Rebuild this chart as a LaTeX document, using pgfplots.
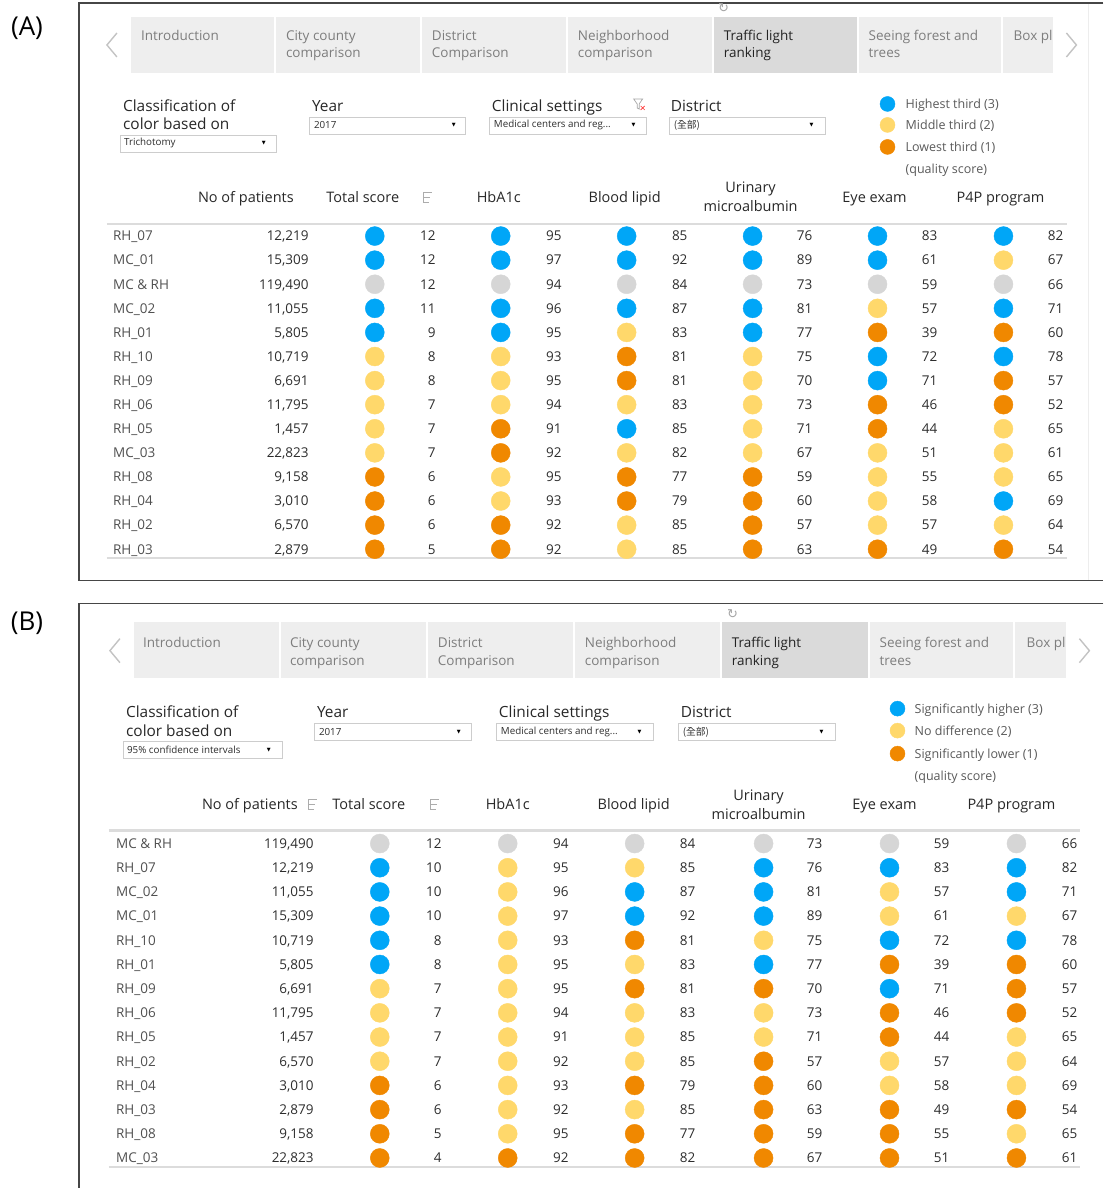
\documentclass[border=0pt]{standalone}
\usepackage{pgfplots}
\pgfplotsset{compat=1.18}
\usepackage{pgfplotstable}
\usepackage{fontspec}
\setmainfont{Open Sans}
\newfontfamily\cjk{Noto Sans CJK TC}
\newfontfamily\dvs{DejaVu Sans}
\newcommand\fs[1]{\fontsize{#1}{#1}\selectfont}
\protected\def\US{\_}
\protected\def\AMP{\&}

\definecolor{cblue}{RGB}{0,166,247}
\definecolor{cyellow}{RGB}{255,216,107}
\definecolor{corange}{RGB}{240,136,0}
\definecolor{cgray}{RGB}{214,214,214}
\definecolor{tabbg}{RGB}{238,238,238}
\definecolor{tabsel}{RGB}{218,218,218}
\definecolor{tabtxt}{RGB}{125,125,125}
\definecolor{seltxt}{RGB}{35,35,35}
\definecolor{lbltxt}{RGB}{80,80,80}
\definecolor{numtxt}{RGB}{45,45,45}
\definecolor{hdrtxt}{RGB}{40,40,40}
\definecolor{legtxt}{RGB}{90,90,90}
\definecolor{rulec}{RGB}{220,220,220}
\definecolor{arrowc}{RGB}{195,195,195}
\definecolor{framec}{RGB}{70,70,70}
\definecolor{boxc}{RGB}{205,205,205}

\pgfplotstableread[col sep=semicolon]{
r;name;pat;tc;t;hc;h;bc;b;uc;u;ec;e;pc;p
1;RH\US 07;12,219;B;12;B;95;B;85;B;76;B;83;B;82
2;MC\US 01;15,309;B;12;B;97;B;92;B;89;B;61;Y;67
3;MC \AMP{} RH;119,490;G;12;G;94;G;84;G;73;G;59;G;66
4;MC\US 02;11,055;B;11;B;96;B;87;B;81;Y;57;B;71
5;RH\US 01;5,805;B;9;B;95;Y;83;B;77;O;39;O;60
6;RH\US 10;10,719;Y;8;Y;93;O;81;Y;75;B;72;B;78
7;RH\US 09;6,691;Y;8;Y;95;O;81;Y;70;B;71;O;57
8;RH\US 06;11,795;Y;7;Y;94;Y;83;Y;73;O;46;O;52
9;RH\US 05;1,457;Y;7;O;91;B;85;Y;71;O;44;Y;65
10;MC\US 03;22,823;Y;7;O;92;Y;82;Y;67;Y;51;Y;61
11;RH\US 08;9,158;O;6;Y;95;O;77;O;59;Y;55;Y;65
12;RH\US 04;3,010;O;6;Y;93;O;79;O;60;Y;58;B;69
13;RH\US 02;6,570;O;6;O;92;Y;85;O;57;Y;57;Y;64
14;RH\US 03;2,879;O;5;O;92;Y;85;O;63;O;49;O;54
}\tabA

\pgfplotstableread[col sep=semicolon]{
r;name;pat;tc;t;hc;h;bc;b;uc;u;ec;e;pc;p
1;MC \AMP{} RH;119,490;G;12;G;94;G;84;G;73;G;59;G;66
2;RH\US 07;12,219;B;10;Y;95;Y;85;B;76;B;83;B;82
3;MC\US 02;11,055;B;10;Y;96;B;87;B;81;Y;57;B;71
4;MC\US 01;15,309;B;10;Y;97;B;92;B;89;Y;61;Y;67
5;RH\US 10;10,719;B;8;Y;93;O;81;Y;75;B;72;B;78
6;RH\US 01;5,805;B;8;Y;95;Y;83;B;77;O;39;O;60
7;RH\US 09;6,691;Y;7;Y;95;O;81;O;70;B;71;O;57
8;RH\US 06;11,795;Y;7;Y;94;Y;83;Y;73;O;46;O;52
9;RH\US 05;1,457;Y;7;Y;91;Y;85;Y;71;O;44;Y;65
10;RH\US 02;6,570;Y;7;Y;92;Y;85;O;57;Y;57;Y;64
11;RH\US 04;3,010;O;6;Y;93;O;79;O;60;Y;58;Y;69
12;RH\US 03;2,879;O;6;Y;92;Y;85;O;63;O;49;O;54
13;RH\US 08;9,158;O;5;Y;95;O;77;O;59;O;55;Y;65
14;MC\US 03;22,823;O;4;O;92;O;82;O;67;O;51;O;61
}\tabB

\pgfplotsset{
  tl/.style={scatter, only marks, mark=*, mark size=9.5pt,
    point meta=explicit symbolic,
    scatter/classes={G={cgray}, O={corange}, Y={cyellow}, B={cblue}}},
  txt/.style={draw=none, mark=none, point meta=explicit symbolic,
    nodes near coords={\pgfplotspointmeta},
    every node near coord/.append style={font=\fs{13.5}, inner sep=0pt,
      text height=9.6pt, text depth=0pt}},
  num/.style={txt, nodes near coords align={anchor=east},
    every node near coord/.append style={text=numtxt}},
  lbl/.style={txt, nodes near coords align={anchor=west},
    every node near coord/.append style={text=lbltxt}},
}

% #1 table, #2 class col, #3 value col, #4 dot x, #5 number right x, #6 y0, #7 dy
\newcommand\metric[7]{%
  \addplot[tl] table[x expr=#4, y expr={#6+#7*(\thisrow{r}-1)}, meta=#2]{#1};
  \addplot[num] table[x expr=#5, y expr={#6+#7*(\thisrow{r}-1)}, meta=#3]{#1};
}
\newcommand\tabbox[5]{\fill[#5] (axis cs:#1,#3) rectangle (axis cs:#2,#4);}
\newcommand\tabtext[4]{\node[anchor=base west, inner sep=0pt, font=\fs{13.5}, text=#4] at (axis cs:#1,#2) {#3};}
\newcommand\ftitle[3]{\node[anchor=base west, inner sep=0pt, font=\fs{15.4}, text=hdrtxt] at (axis cs:#1,#2) {#3};}
\newcommand\hdr[3]{\node[anchor=base, inner sep=0pt, font=\fs{14.5}, text=hdrtxt] at (axis cs:#1,#2) {#3};}
\newcommand\leg[3]{\node[anchor=base west, inner sep=0pt, font=\fs{12.5}, text=legtxt] at (axis cs:#1,#2) {#3};}
% dropdown: x1 x2 y1 y2 text arrowx
\newcommand\dd[6]{%
  \draw[boxc, fill=white, line width=0.8pt] (axis cs:#1,#3) rectangle (axis cs:#2,#4);
  \node[anchor=west, inner sep=0pt, font=\fs{9.8}, text=numtxt] at (axis cs:#1+4,{(#3+#4)/2}) {#5};
  \node[inner sep=0pt, font=\dvs\fs{5}, text=black] at (axis cs:#6,{(#3+#4)/2}) {▼};}
\newcommand\sorticon[2]{%
  \draw[gray!65, line width=1pt]
    (axis cs:#1-4,#2-5.5)--(axis cs:#1-4,#2+5.5)
    (axis cs:#1-4,#2-5)--(axis cs:#1+4,#2-5)
    (axis cs:#1-4,#2)--(axis cs:#1+2.5,#2)
    (axis cs:#1-4,#2+5)--(axis cs:#1+1,#2+5);}

\begin{document}
\begin{tikzpicture}
\begin{axis}[x=1pt, y=1pt, xmin=0, xmax=1104, ymin=0, ymax=1189,
  y dir=reverse, hide axis, clip=false, scale only axis]

\fill[white] (axis cs:0,0) rectangle (axis cs:1104,1189);

% ================= PANEL A =================
\node[font=\fs{26}, text=black] at (axis cs:27,28) {(A)};
\draw[framec, line width=1.3pt] (axis cs:1104,3) -- (axis cs:79,3) -- (axis cs:79,581) -- (axis cs:1104,581);
\draw[black!7, line width=1pt] (axis cs:1089,4) -- (axis cs:1089,580);
\node[font=\dvs\fs{13}, text=gray!70] at (axis cs:724,8) {↻};
% tabs
\tabbox{131}{274}{17}{73}{tabbg}
\tabbox{276}{420}{17}{73}{tabbg}
\tabbox{422}{566}{17}{73}{tabbg}
\tabbox{568}{712}{17}{73}{tabbg}
\tabbox{714}{857}{17}{73}{tabsel}
\tabbox{859}{1002}{17}{73}{tabbg}
\tabbox{1004}{1054}{17}{73}{tabbg}
\tabtext{141}{41}{Introduction}{tabtxt}
\tabtext{286}{41}{City county}{tabtxt}\tabtext{286}{58}{comparison}{tabtxt}
\tabtext{432}{41}{District}{tabtxt}\tabtext{432}{58}{Comparison}{tabtxt}
\tabtext{578}{41}{Neighborhood}{tabtxt}\tabtext{578}{58}{comparison}{tabtxt}
\tabtext{724}{41}{Traffic light}{seltxt}\tabtext{724}{58}{ranking}{seltxt}
\tabtext{869}{41}{Seeing forest and}{tabtxt}\tabtext{869}{58}{trees}{tabtxt}
\tabtext{1014}{41}{Box pl}{tabtxt}
\draw[arrowc, line width=1.4pt] (axis cs:117,33) -- (axis cs:107,45) -- (axis cs:117,57);
\draw[arrowc, line width=1.4pt] (axis cs:1067,33) -- (axis cs:1077,45) -- (axis cs:1067,57);
% filters
\ftitle{123}{112}{Classification of}
\ftitle{123}{130}{color based on}
\ftitle{312}{112}{Year}
\ftitle{492}{112}{Clinical settings}
\ftitle{671}{112}{District}
\draw[gray!70, line width=0.7pt] (axis cs:634,99) -- (axis cs:643,99) -- (axis cs:639.5,104) -- (axis cs:639.5,109) -- (axis cs:637.5,108) -- (axis cs:637.5,104) -- cycle;
\draw[red!80, line width=0.6pt] (axis cs:641,106) -- (axis cs:645,110) (axis cs:645,106) -- (axis cs:641,110);
\dd{120}{277}{135}{152}{Trichotomy}{264}
\dd{310}{466}{117}{134}{2017}{454}
\dd{490}{647}{117}{134}{Medical centers and reg...}{634}
\dd{670}{826}{117}{134}{{\cjk (全部)}}{812}
% legend
\addplot[tl, mark size=7.5pt] coordinates {(888,104) [B] (888,125) [Y] (888,147) [O]};
\leg{906}{108.5}{Highest third (3)}
\leg{906}{129.5}{Middle third (2)}
\leg{906}{151.5}{Lowest third (1)}
\leg{906}{174}{(quality score)}
% headers
\hdr{246}{203}{No of patients}
\hdr{363}{203}{Total score}
\sorticon{428}{198}
\hdr{499}{203}{HbA1c}
\hdr{625}{203}{Blood lipid}
\hdr{751}{193}{Urinary}
\hdr{751}{212}{microalbumin}
\hdr{875}{203}{Eye exam}
\hdr{1001}{203}{P4P program}
\draw[rulec, line width=2.5pt] (axis cs:107,224) -- (axis cs:1068,224);
\draw[rulec, line width=2pt] (axis cs:107,558) -- (axis cs:1068,558);
% rows
\addplot[lbl] table[x expr=113, y expr={236.2+24.1*(\thisrow{r}-1)}, meta=name]{\tabA};
\addplot[num] table[x expr=309, y expr={236.2+24.1*(\thisrow{r}-1)}, meta=pat]{\tabA};
\metric{\tabA}{tc}{t}{375}{436}{236.2}{24.1}
\metric{\tabA}{hc}{h}{501}{562}{236.2}{24.1}
\metric{\tabA}{bc}{b}{627}{688}{236.2}{24.1}
\metric{\tabA}{uc}{u}{753}{813}{236.2}{24.1}
\metric{\tabA}{ec}{e}{878}{938}{236.2}{24.1}
\metric{\tabA}{pc}{p}{1004}{1064}{236.2}{24.1}

% ================= PANEL B =================
\node[font=\fs{26}, text=black] at (axis cs:27,624) {(B)};
\draw[framec, line width=1.3pt] (axis cs:1104,604) -- (axis cs:79,604) -- (axis cs:79,1189);
\node[font=\dvs\fs{13}, text=gray!70] at (axis cs:733,614) {↻};
\tabbox{134}{279}{622}{678}{tabbg}
\tabbox{281}{426}{622}{678}{tabbg}
\tabbox{428}{573}{622}{678}{tabbg}
\tabbox{575}{720}{622}{678}{tabbg}
\tabbox{722}{868}{622}{678}{tabsel}
\tabbox{870}{1014}{622}{678}{tabbg}
\tabbox{1016}{1067}{622}{678}{tabbg}
\tabtext{143}{648}{Introduction}{tabtxt}
\tabtext{290}{648}{City county}{tabtxt}\tabtext{290}{666}{comparison}{tabtxt}
\tabtext{438}{648}{District}{tabtxt}\tabtext{438}{666}{Comparison}{tabtxt}
\tabtext{585}{648}{Neighborhood}{tabtxt}\tabtext{585}{666}{comparison}{tabtxt}
\tabtext{732}{648}{Traffic light}{seltxt}\tabtext{732}{666}{ranking}{seltxt}
\tabtext{880}{648}{Seeing forest and}{tabtxt}\tabtext{880}{666}{trees}{tabtxt}
\tabtext{1027}{648}{Box pl}{tabtxt}
\draw[arrowc, line width=1.4pt] (axis cs:120,639) -- (axis cs:110,651) -- (axis cs:120,663);
\draw[arrowc, line width=1.4pt] (axis cs:1080,639) -- (axis cs:1090,651) -- (axis cs:1080,663);
\ftitle{126}{718}{Classification of}
\ftitle{126}{737}{color based on}
\ftitle{317}{718}{Year}
\ftitle{499}{718}{Clinical settings}
\ftitle{681}{718}{District}
\dd{123}{283}{742}{759}{95\% confidence intervals}{269}
\dd{315}{472}{724}{741}{2017}{459}
\dd{497}{654}{724}{741}{Medical centers and reg...}{640}
\dd{679}{836}{724}{741}{{\cjk (全部)}}{822}
\addplot[tl, mark size=7.5pt] coordinates {(898,709) [B] (898,731) [Y] (898,754) [O]};
\leg{915}{713.5}{Significantly higher (3)}
\leg{915}{735.5}{No difference (2)}
\leg{915}{758.5}{Significantly lower (1)}
\leg{915}{780.5}{(quality score)}
\hdr{250}{810}{No of patients}
\sorticon{313}{805}
\hdr{369}{810}{Total score}
\sorticon{435}{805}
\hdr{508}{810}{HbA1c}
\hdr{634}{810}{Blood lipid}
\hdr{759}{801}{Urinary}
\hdr{759}{820}{microalbumin}
\hdr{885}{810}{Eye exam}
\hdr{1012}{810}{P4P program}
\draw[rulec, line width=2.5pt] (axis cs:109,831) -- (axis cs:1081,831);
\draw[rulec, line width=2pt] (axis cs:109,1168) -- (axis cs:1081,1168);
\addplot[lbl] table[x expr=116, y expr={844+24.2*(\thisrow{r}-1)}, meta=name]{\tabB};
\addplot[num] table[x expr=314, y expr={844+24.2*(\thisrow{r}-1)}, meta=pat]{\tabB};
\metric{\tabB}{tc}{t}{380}{442}{844}{24.2}
\metric{\tabB}{hc}{h}{508}{569}{844}{24.2}
\metric{\tabB}{bc}{b}{635}{696}{844}{24.2}
\metric{\tabB}{uc}{u}{764}{823}{844}{24.2}
\metric{\tabB}{ec}{e}{890}{950}{844}{24.2}
\metric{\tabB}{pc}{p}{1017}{1078}{844}{24.2}
\end{axis}
\end{tikzpicture}
\end{document}
